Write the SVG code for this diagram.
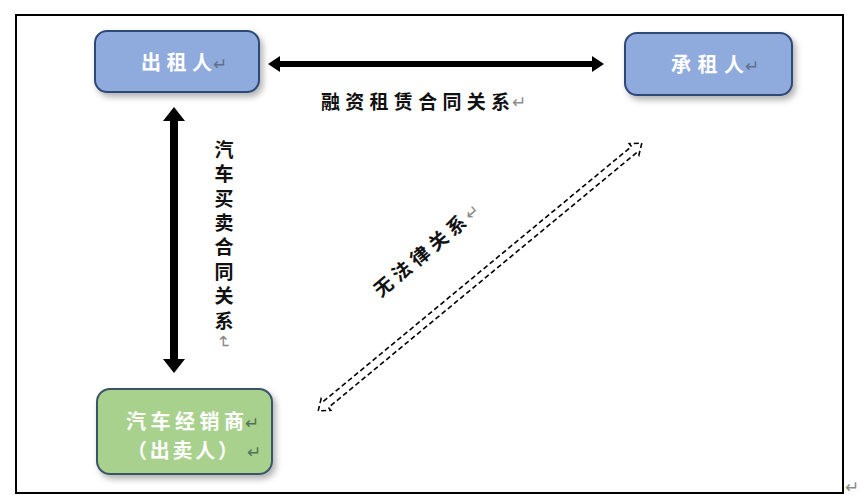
<svg xmlns="http://www.w3.org/2000/svg" width="863" height="504" viewBox="0 0 863 504">
<defs>
<style>
.cjk{font-family:"Noto Sans CJK SC","Noto Sans",sans-serif;}
.node-text{fill:#ffffff;font-size:20px;font-weight:bold;}
.lbl{fill:#111111;font-size:19px;font-weight:bold;}
.pm{fill:#8a8a8a;font-size:17px;font-family:"DejaVu Sans",sans-serif;font-weight:normal;}
.pmw{fill:#5f6f8a;font-size:17px;font-family:"DejaVu Sans",sans-serif;}
.pmg{fill:#55705a;font-size:17px;font-family:"DejaVu Sans",sans-serif;}
.blue{fill:#8FAADC;stroke:#2F4A78;stroke-width:2;}
.green{fill:#A9D18E;stroke:#3A5566;stroke-width:2;}
</style>
<filter id="sh" x="-20%" y="-20%" width="150%" height="160%">
<feDropShadow dx="3" dy="4" stdDeviation="3" flood-color="#000" flood-opacity="0.3"/>
</filter>
</defs>
<rect x="16" y="15" width="827" height="478" fill="#ffffff" stroke="#000" stroke-width="2"/>
<text class="pm" x="845" y="493">↵</text>

<g id="connectors">
<path d="M268,64 L280,56 L280,61 L592,61 L592,56 L604,64 L592,72 L592,67 L280,67 L280,72 Z" fill="#000"/>
<path d="M174,107 L185,121 L178,121 L178,359 L185,359 L174,373 L163,359 L170,359 L170,121 L163,121 Z" fill="#000"/>
<g transform="translate(480,277) rotate(-39.6)">
<path d="M-210,0 L-200,-7.5 L-200,-4 L200,-4 L200,-7.5 L210,0 L200,7.5 L200,4 L-200,4 L-200,7.5 Z" fill="#fff" stroke="#000" stroke-width="1.6" stroke-dasharray="5,3"/>
</g>
<text class="cjk lbl" x="321" y="109" textLength="189" lengthAdjust="spacing">融资租赁合同关系</text>
<text class="pm" x="512" y="108">↵</text>
<text class="cjk lbl" x="224" y="140" style="writing-mode:vertical-rl" letter-spacing="5.4">汽车买卖合同关系<tspan class="pm">↵</tspan></text>
<g transform="translate(420,256) rotate(-40)">
<text class="cjk lbl" x="0" y="7" text-anchor="middle" textLength="114" lengthAdjust="spacing">无法律关系</text>
<text class="pm" x="61" y="6">↵</text>
</g>
</g>

<g id="lessor">
<rect class="blue" x="95" y="31" width="164" height="61" rx="12" filter="url(#sh)"/>
<text class="cjk node-text" x="141" y="70" textLength="71" lengthAdjust="spacing">出租人</text>
<text class="pmw" x="213" y="70">↵</text>
</g>

<g id="lessee">
<rect class="blue" x="625" y="33" width="167" height="62" rx="12" filter="url(#sh)"/>
<text class="cjk node-text" x="671" y="72" textLength="73" lengthAdjust="spacing">承租人</text>
<text class="pmw" x="745" y="72">↵</text>
</g>

<g id="dealer">
<rect class="green" x="97" y="389" width="175" height="85" rx="13" filter="url(#sh)"/>
<text class="cjk node-text" x="126" y="429" textLength="118" lengthAdjust="spacing">汽车经销商</text>
<text class="pmg" x="245" y="429">↵</text>
<text class="cjk node-text" x="127" y="458" textLength="111" lengthAdjust="spacing">（出卖人）</text>
<text class="pmg" x="247" y="458">↵</text>
</g>
</svg>
